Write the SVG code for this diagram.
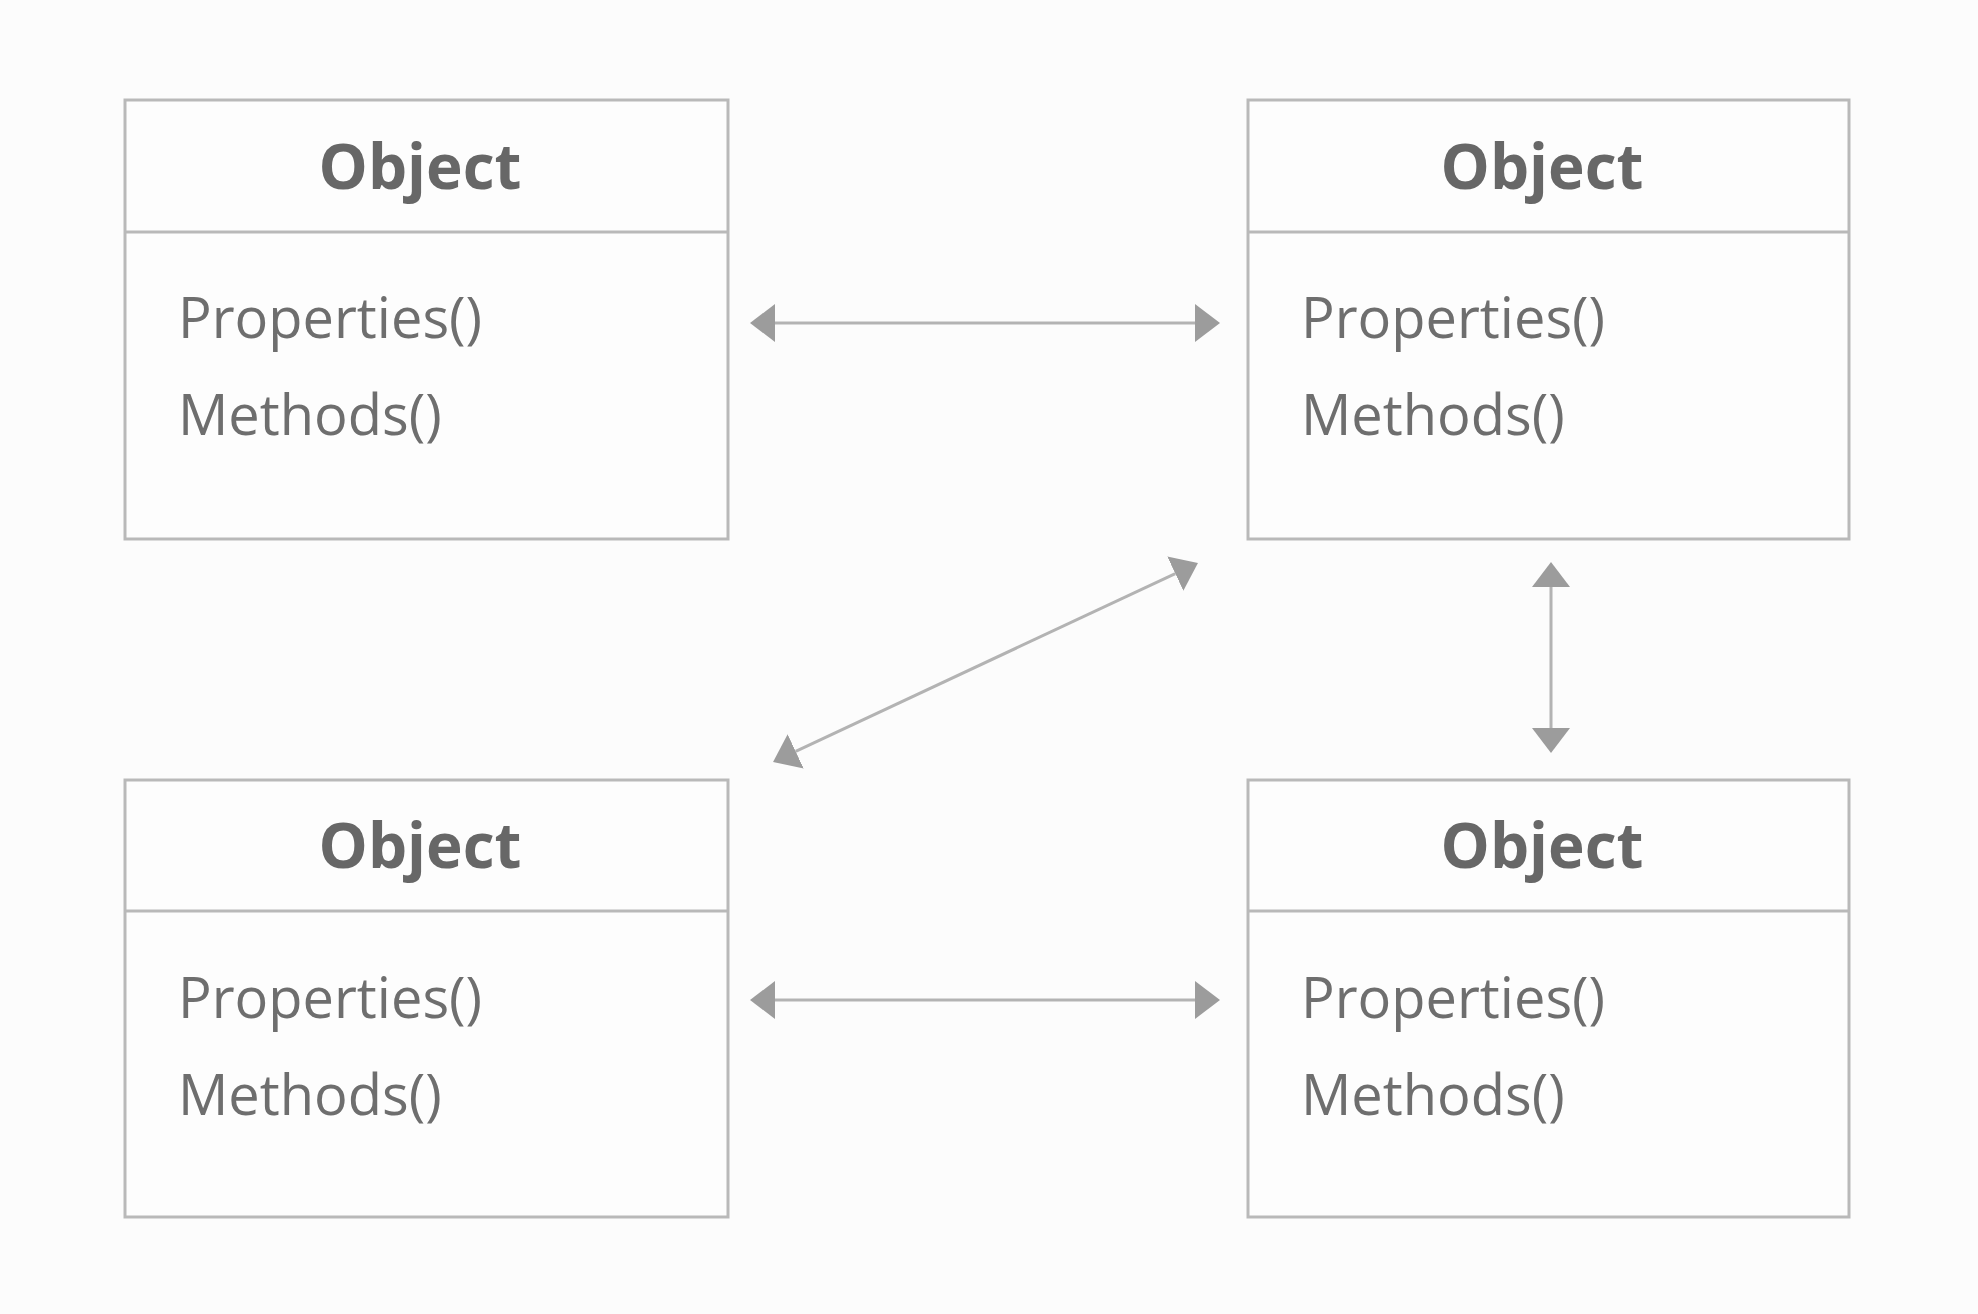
<svg xmlns="http://www.w3.org/2000/svg" width="1978" height="1314" viewBox="0 0 1978 1314">
<style>
.box{fill:#fdfdfd;stroke:#b9b9b9;stroke-width:3}
.div{stroke:#b9b9b9;stroke-width:3}
.title{font-family:"Open Sans","Liberation Sans",sans-serif;font-weight:bold;font-size:62px;fill:#676767;text-anchor:middle}
.item{font-family:"Open Sans","Liberation Sans",sans-serif;font-size:56px;fill:#6e6e6e}
.conn{stroke:#b3b3b3;stroke-width:3;fill:none;marker-start:url(#ah);marker-end:url(#ah)}
</style>
<defs>
<marker id="ah" markerUnits="userSpaceOnUse" markerWidth="26" markerHeight="40" refX="0" refY="19" orient="auto-start-reverse" viewBox="0 0 26 40">
<path d="M0,0 L25,19 L0,38 z" fill="#9c9c9c"/>
</marker>
</defs>
<rect width="1978" height="1314" fill="#fcfcfc"/>
<g id="node-top-left">
<rect class="box" x="125" y="100" width="603" height="439"/>
<line class="div" x1="125" y1="232" x2="728" y2="232"/>
<text class="title" x="420" y="189">Object</text>
<text class="item" x="178" y="338">Properties()</text>
<text class="item" x="178" y="435">Methods()</text>
</g>
<g id="node-top-right">
<rect class="box" x="1248" y="100" width="601" height="439"/>
<line class="div" x1="1248" y1="232" x2="1849" y2="232"/>
<text class="title" x="1542" y="189">Object</text>
<text class="item" x="1301" y="338">Properties()</text>
<text class="item" x="1301" y="435">Methods()</text>
</g>
<g id="node-bottom-left">
<rect class="box" x="125" y="780" width="603" height="437"/>
<line class="div" x1="125" y1="911" x2="728" y2="911"/>
<text class="title" x="420" y="868">Object</text>
<text class="item" x="178" y="1018">Properties()</text>
<text class="item" x="178" y="1115">Methods()</text>
</g>
<g id="node-bottom-right">
<rect class="box" x="1248" y="780" width="601" height="437"/>
<line class="div" x1="1248" y1="911" x2="1849" y2="911"/>
<text class="title" x="1542" y="868">Object</text>
<text class="item" x="1301" y="1018">Properties()</text>
<text class="item" x="1301" y="1115">Methods()</text>
</g>
<g id="connectors">
<line class="conn" x1="775" y1="323" x2="1195" y2="323"/>
<line class="conn" x1="795.7" y1="751.4" x2="1175.3" y2="573.6"/>
<line class="conn" x1="1551" y1="587" x2="1551" y2="728"/>
<line class="conn" x1="775" y1="1000" x2="1195" y2="1000"/>
</g>
</svg>
